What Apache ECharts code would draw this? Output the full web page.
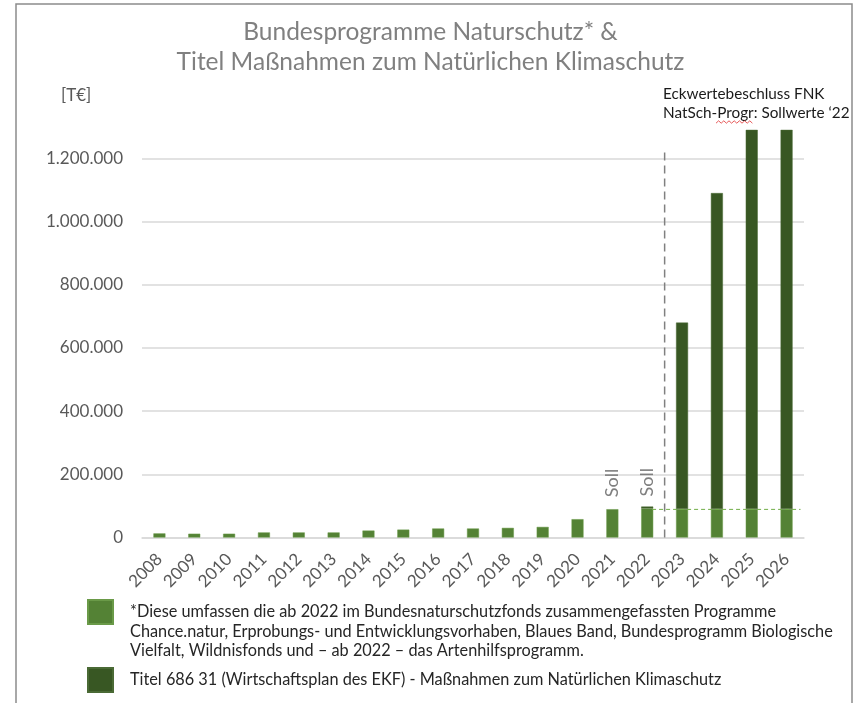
<!DOCTYPE html>
<html>
<head>
<meta charset="utf-8">
<script src="https://cdn.jsdelivr.net/npm/echarts@6/dist/echarts.min.js"></script>
<style>
html,body{margin:0;padding:0;background:#fff;}
#chart{width:861px;height:703px;}
</style>
</head>
<body>
<div id="chart"></div>
<script>
// ---- data ----
const years = ['2008','2009','2010','2011','2012','2013','2014','2015','2016','2017','2018','2019','2020','2021','2022','2023','2024','2025','2026'];
const naturschutz = [13000, 12000, 12000, 16000, 16000, 16000, 22000, 25000, 28500, 28500, 30500, 33500, 58000, 89500, 92000, 90000, 90000, 90000, 90000];
const klimaschutz = [null, null, null, null, null, null, null, null, null, null, null, null, null, null, 6000, 590000, 1000000, 1200000, 1200000];
const sollYears = ['2021', '2022'];
const yTicks = [0, 200000, 400000, 600000, 800000, 1000000, 1200000];
const sollwertLevel = 89000;       // dashed green reference level
const dividerPos = 15;             // boundary between 2022 and 2023 (in category units)
const dividerTop = 1228000;
const sollwertFrom = 14.64, sollwertTo = 18.9;

const nameNatur = '*Diese umfassen die ab 2022 im Bundesnaturschutzfonds zusammengefassten Programme\nChance.natur, Erprobungs- und Entwicklungsvorhaben, Blaues Band, Bundesprogramm Biologische\nVielfalt, Wildnisfonds und \u2013 ab 2022 \u2013 das Artenhilfsprogramm.';
const nameKlima = 'Titel 686 31 (Wirtschaftsplan des EKF) - Ma\u00dfnahmen zum Nat\u00fcrlichen Klimaschutz';

const FONT = 'Lato';
const fmt = v => String(v).replace(/\B(?=(\d{3})+(?!\d))/g, '.');

// red spell-check squiggle under "Progr" (decoration)
const squiggle = [];
for (let i = 0; i <= 14; i++) squiggle.push([716 + i * 2.6, 122 + (i % 2 ? -1.2 : 1.2)]);

const chart = echarts.init(document.getElementById('chart'), null, {renderer: 'canvas'});
const option = {
  animation: false,
  backgroundColor: '#ffffff',
  textStyle: {fontFamily: FONT},
  title: {
    text: 'Bundesprogramme Naturschutz* &\nTitel Ma\u00dfnahmen zum Nat\u00fcrlichen Klimaschutz',
    left: 'center',
    top: 17, padding: 0,
    textStyle: {fontFamily: FONT, fontSize: 24.5, fontWeight: 'normal', color: '#808080', lineHeight: 30}
  },
  grid: {left: 142, right: 57, top: 158.3, bottom: 165.5, containLabel: false},
  legend: [
    {
      data: [nameNatur],
      orient: 'vertical',
      left: 87, top: 563.25, padding: 0,
      icon: 'rect', itemWidth: 25, itemHeight: 24,
      selectedMode: false,
      formatter: name => '\n\n' + name,
      textStyle: {fontFamily: FONT, fontSize: 16.3, color: '#262626', lineHeight: 19.5, padding: [0,0,0,12]}
    },
    {
      data: [nameKlima],
      orient: 'vertical',
      left: 87, top: 667, padding: 0,
      icon: 'rect', itemWidth: 25, itemHeight: 24,
      selectedMode: false,
      textStyle: {fontFamily: FONT, fontSize: 16.3, color: '#262626', lineHeight: 19.5, padding: [0,0,0,12]}
    }
  ],
  xAxis: [
    {
      type: 'category', data: years,
      axisLine: {lineStyle: {color: '#d9d9d9', width: 1.5}},
      axisTick: {show: false},
      axisLabel: {rotate: 45, margin: 19, fontFamily: FONT, fontSize: 17, color: '#595959', interval: 0}
    },
    {
      type: 'value', min: 0, max: years.length, show: false
    }
  ],
  yAxis: {
    type: 'value', min: yTicks[0], max: yTicks[yTicks.length-1], interval: yTicks[1]-yTicks[0],
    axisLine: {show: false}, axisTick: {show: false},
    splitLine: {lineStyle: {color: '#d9d9d9', width: 1.5}},
    axisLabel: {formatter: fmt, margin: 19, fontFamily: FONT, fontSize: 17, color: '#595959'}
  },
  graphic: [
    {type: 'rect', shape: {x: 16, y: 4, width: 836, height: 760}, style: {fill: 'none', stroke: '#8c8c8c', lineWidth: 1.5}, silent: true},
    {type: 'text', left: 61, top: 87, style: {text: '[T\u20ac]', fontFamily: FONT, fontSize: 17, fill: '#595959'}},
    {type: 'text', left: 663, top: 85, style: {text: 'Eckwertebeschluss FNK\nNatSch-Progr: Sollwerte \u201822', fontFamily: FONT, fontSize: 15.3, lineHeight: 19, fill: '#1a1a1a'}},
    {type: 'polyline', shape: {points: squiggle}, style: {stroke: '#e03030', lineWidth: 0.8, fill: 'none'}, silent: true}
  ],
  series: [
    {
      name: nameNatur, type: 'bar', stack: 'total', barWidth: 12, clip: false,
      itemStyle: {color: '#548235', borderColor: '#6a9a48', borderWidth: 0.5},
      data: naturschutz.map((v, i) => sollYears.includes(years[i])
        ? {value: v, label: {show: true, formatter: 'Soll', position: 'top', rotate: 90, align: 'left', verticalAlign: 'middle', distance: 12, fontFamily: FONT, fontSize: 18, color: '#7f7f7f'}}
        : v)
    },
    {
      name: nameKlima, type: 'bar', stack: 'total', barWidth: 12, clip: false,
      itemStyle: {color: '#385723', borderColor: '#4a6a35', borderWidth: 0.5},
      data: klimaschutz
    },
    {
      type: 'line', xAxisIndex: 1, clip: false, silent: true, symbol: 'none',
      lineStyle: {color: '#808080', width: 1.5, type: [8, 5]},
      data: [[dividerPos, 0], [dividerPos, dividerTop]]
    },
    {
      type: 'line', xAxisIndex: 1, clip: false, silent: true, symbol: 'none', z: 3,
      lineStyle: {color: '#70ad47', width: 1, type: [4, 3]},
      data: [[sollwertFrom, sollwertLevel], [sollwertTo, sollwertLevel]]
    }
  ]
};
chart.setOption(option);
</script>
</body>
</html>
